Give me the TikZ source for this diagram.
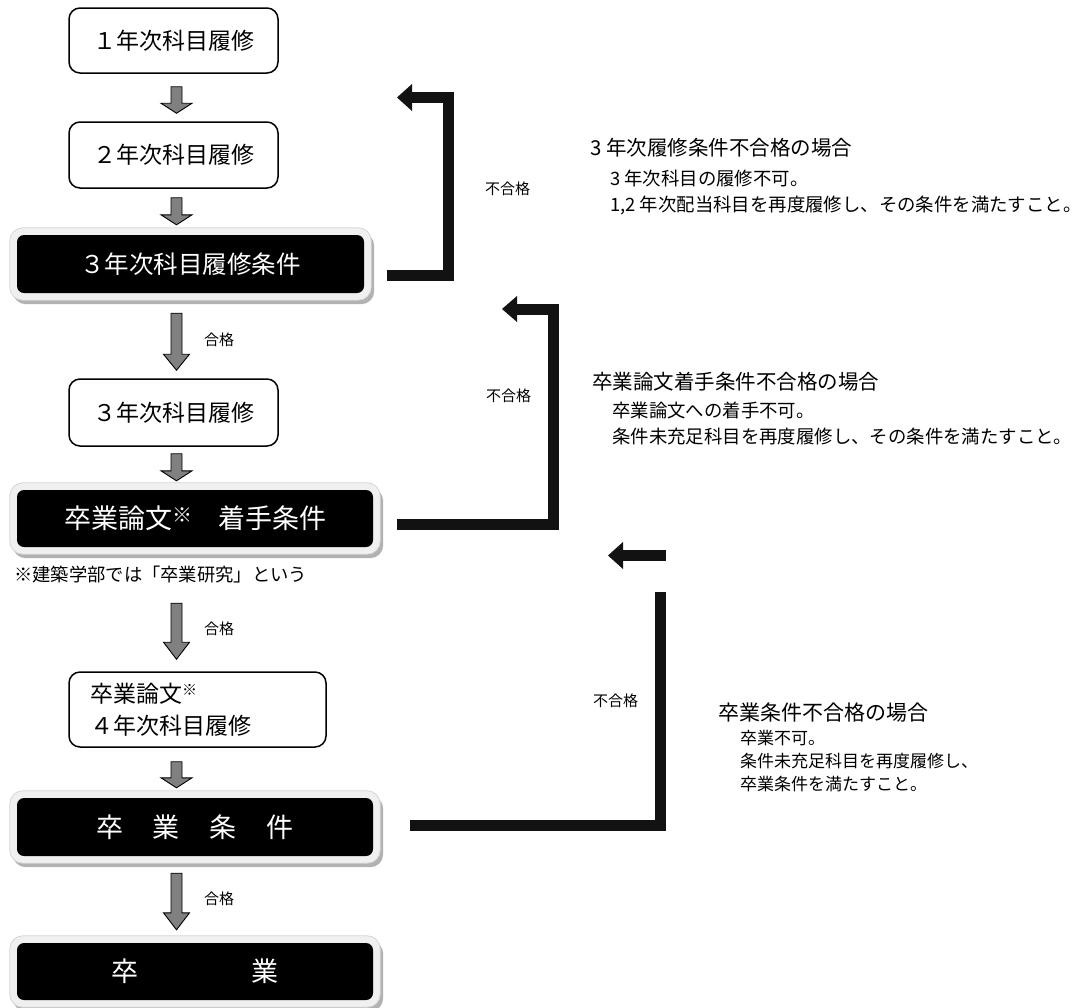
\documentclass[tikz,border=0pt]{standalone}
\usepackage{fontspec}
\setmainfont{Noto Sans CJK JP}
\usetikzlibrary{calc,arrows.meta,backgrounds}
\newcommand\fs[1]{\fontsize{#1}{#1}\selectfont}
\newcommand\garrow[4]{%
  \draw[garrowstyle] let \p1=#1, \p2=#2 in
    (\x1-5.5pt,\y1) -- (\x1+5.5pt,\y1) -- (\x1+5.5pt,\y2+#3pt) -- (\x1+#4pt,\y2+#3pt)
    -- (\x1,\y2) -- (\x1-#4pt,\y2+#3pt) -- (\x1-5.5pt,\y2+#3pt) -- cycle;}
\tikzset{
  wbox/.style={draw=black, line width=1.5pt, rounded corners=11pt, fill=white,
    minimum width=209pt, inner sep=0pt, font=\fs{23}},
  bbox/.style={fill=black, text=white, rounded corners=7pt, inner sep=0pt,
    minimum width=356pt, minimum height=57pt, font=\fs{27}},
  lbl/.style={anchor=west, inner sep=0pt, font=\fs{15}},
  garrowstyle/.style={fill=black!50, draw=black, line width=0.9pt, line join=miter},
  fb/.style={draw=black!93, line width=11pt, line join=miter},
  fbtip/.style={-{Triangle[length=15pt,width=27pt,line width=0pt]}},
  rhead/.style={anchor=west, inner sep=0pt, font=\fs{20.5}},
  rbody/.style={anchor=west, inner sep=0pt, font=\fs{18.4}},
  rbodys/.style={anchor=west, inner sep=0pt, font=\fs{17}},
  frame/.style={fill=black!6, draw=black!16, line width=0.8pt, rounded corners=13pt},
  shadowbox/.style={fill=black!30, rounded corners=13pt},
}
\begin{document}
\begin{tikzpicture}[x=1pt,y=-1pt]
\useasboundingbox (0,0) rectangle (1083,1007);
\coordinate (ax) at (176.5,0);

% left column
\node[wbox, minimum height=65pt] (b1) at (173.5,40.5) {１年次科目履修};
\node[wbox, minimum height=66pt] (b2) at (173.5,155) {２年次科目履修};
\node[bbox, minimum width=347pt, minimum height=58pt, font=\fs{24.5}] (c3) at (190.5,264) {３年次科目履修条件};
\node[wbox, minimum height=67pt] (b3) at (173.5,412.5) {３年次科目履修};
\node[bbox] (c4) at (195,518.5) {卒業論文\raisebox{6pt}{\fs{20}※}\hspace{26pt}着手条件};
\node[anchor=west, inner sep=0pt, font=\fs{18.3}] (note) at (14,575) {※建築学部では「卒業研究」という};
\node[wbox, minimum width=257pt, minimum height=75pt, text width=215pt, align=left,
  font=\fontsize{23}{32}\selectfont] (b4) at (197.5,709.5)
  {卒業論文\raisebox{7pt}{\fs{15}※}\\４年次科目履修};
\node[bbox, minimum height=58pt] (c5) at (195,827) {卒\hspace{30pt}業\hspace{30pt}条\hspace{30pt}件};
\node[bbox] (c6) at (195,971.5) {卒\hspace{113pt}業};

% frames behind the black boxes
\begin{scope}[on background layer]
  \fill[white] (0,0) rectangle (1083,1007);
  \foreach \n in {c3,c4,c5,c6}{
    \fill[shadowbox] ($(\n.north west)+(-4,-2)$) rectangle ($(\n.south east)+(10,11)$);
    \filldraw[frame] ($(\n.north west)+(-7,-7)$) rectangle ($(\n.south east)+(7,7)$);
  }
\end{scope}

% grey block arrows
\garrow{($(b1.south -| ax)+(0,13)$)}{($(b2.north -| ax)+(0,-8)$)}{10}{15.5}
\garrow{($(b2.south -| ax)+(0,9)$)}{($(c3.north -| ax)+(0,-10)$)}{10}{15.5}
\garrow{($(c3.south -| ax)+(0,20)$)}{($(b3.north -| ax)+(0,-8)$)}{16}{13}
\garrow{($(b3.south -| ax)+(0,7)$)}{($(c4.north -| ax)+(0,-9)$)}{10}{15.5}
\garrow{($(c4.south -| ax)+(0,56)$)}{($(b4.north -| ax)+(0,-12)$)}{17}{13}
\garrow{($(b4.south -| ax)+(0,14)$)}{($(c5.north -| ax)+(0,-10)$)}{10}{15.5}
\garrow{($(c5.south -| ax)+(0,17)$)}{($(c6.north -| ax)+(0,-13)$)}{17}{13}

\node[lbl] (g1) at (204,340) {合格};
\node[lbl] (g2) at (204,629) {合格};
\node[lbl] (g3) at (204,899) {合格};

% feedback connectors
\coordinate (f1s) at ($(c3.east)+(23,11.5)$);
\coordinate (f1e) at (397,97.5);
\draw[fb, fbtip] (f1s) -- ++(61.5,0) |- (f1e);
\coordinate (f2s) at ($(c4.east)+(24,6)$);
\coordinate (f2e) at (502,309);
\draw[fb, -{Triangle[length=15pt,width=26pt,line width=0pt]}] (f2s) -- ++(156.5,0) |- (f2e);
\coordinate (f3s) at ($(c5.east)+(37,-2)$);
\coordinate (f3t) at (660.5,592);
\draw[fb] (f3s) -| (f3t);
\coordinate (f3a) at (666,555.5);
\coordinate (f3b) at (608,555.5);
\draw[fb, fbtip] (f3a) -- (f3b);

\node[lbl] (n1) at (485,189) {不合格};
\node[lbl] (n2) at (486,396) {不合格};
\node[lbl] (n3) at (593,701) {不合格};

% right-hand explanations
\node[rhead] (r1h) at (590,148) {3 年次履修条件不合格の場合};
\node[rbody] (r1a) at (610,178) {3 年次科目の履修不可。};
\node[rbody] (r1b) at (610,205) {1,2 年次配当科目を再度履修し、その条件を満たすこと。};
\node[rhead] (r2h) at (592,382) {卒業論文着手条件不合格の場合};
\node[rbody] (r2a) at (612,410) {卒業論文への着手不可。};
\node[rbody] (r2b) at (612,436) {条件未充足科目を再度履修し、その条件を満たすこと。};
\node[rhead, font=\fs{21}] (r3h) at (718,713) {卒業条件不合格の場合};
\node[rbodys] (r3a) at (740,738) {卒業不可。};
\node[rbodys] (r3b) at (740,761) {条件未充足科目を再度履修し、};
\node[rbodys] (r3c) at (740,784) {卒業条件を満たすこと。};
\end{tikzpicture}
\end{document}
